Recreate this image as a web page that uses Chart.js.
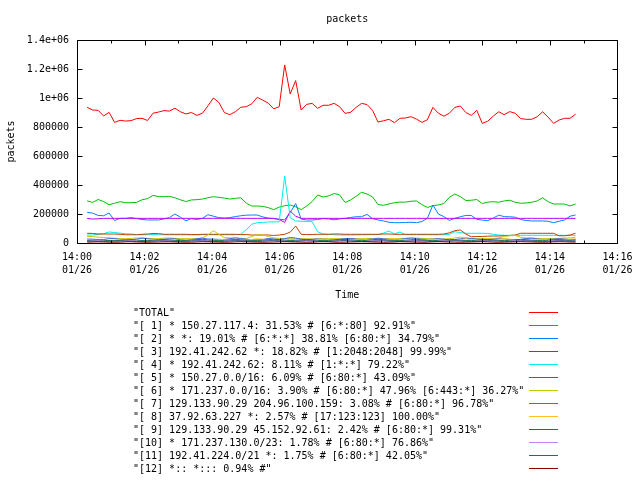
<html>
<head>
<title>packets</title>
<script src="https://cdn.jsdelivr.net/npm/chart.js@4.4.1/dist/chart.umd.min.js"></script>
<style>
  body { margin: 0; background: #fff; }
  #wrap { position: relative; width: 640px; height: 480px; }
  #legend { position: absolute; left: 0; top: 0; width: 640px; height: 480px; pointer-events: none;
            font: 10px "DejaVu Sans Mono", monospace; color: #000; }
  .row { position: absolute; left: 133px; height: 13px; line-height: 13px; white-space: pre; }
  .key { position: absolute; left: 529px; width: 29px; height: 1px; }
</style>
</head>
<body>
<div id="wrap">
  <canvas id="myChart" width="640" height="480"></canvas>
  <div id="legend"></div>
</div>

<script type="text/javascript">
// samples, in thousands of packets, one every ~10s from 14:00:18
var startMin = 0.30, endMin = 14.76

var total = [936,917,915,876,901,832,846,841,844,858,
  860,845,895,903,913,910,930,905,890,900,
  880,895,945,1000,970,900,885,905,936,940,
  960,1005,985,965,925,940,1228,1028,1120,917,
  956,963,929,950,950,963,940,894,901,935,
  963,955,915,834,843,853,830,860,862,871,
  855,832,850,935,895,875,895,935,945,900,
  880,915,825,840,875,905,885,906,895,858,
  853,853,871,905,868,825,848,860,860,888]

var s1 = [290,280,300,286,264,274,285,278,278,280,
  298,306,328,320,319,322,312,298,286,297,
  299,303,312,319,315,310,303,308,312,275,
  255,255,253,244,230,248,257,262,250,230,
  255,285,331,317,325,341,332,280,296,322,
  350,338,318,265,260,269,278,282,282,288,
  290,265,245,258,262,272,315,338,320,293,
  295,300,272,282,285,281,290,295,281,274,
  276,281,290,312,285,269,269,268,256,269]

var s2 = [212,206,190,188,207,155,170,170,175,168,
  162,159,159,159,166,175,200,178,153,168,
  162,170,195,185,175,172,175,182,188,192,
  193,193,180,172,168,164,160,210,272,165,
  159,159,162,168,166,160,166,170,176,181,
  181,197,168,159,152,143,140,140,142,143,
  140,148,170,262,200,182,156,170,181,190,
  190,163,158,154,172,192,182,181,178,162,
  155,152,152,152,150,140,150,159,185,193]

var s3 = [170,165,167,170,170,170,170,170,170,170,
  170,170,170,170,170,170,170,170,170,170,
  170,170,170,170,170,170,170,170,170,170,
  170,170,170,170,170,162,142,220,185,170,
  170,170,170,170,170,170,170,170,170,170,
  170,170,170,170,170,170,170,170,170,170,
  170,170,170,170,170,170,170,170,170,170,
  170,170,170,170,170,170,170,170,170,170,
  170,170,170,170,170,170,170,170,170,170]

var s4 = [55,55,60,64,76,72,68,64,62,58,
  57,57,58,57,57,57,57,57,57,57,
  57,58,58,57,57,57,57,57,60,92,
  130,140,142,145,146,146,462,175,152,150,
  148,147,78,62,60,57,55,55,55,56,
  57,57,58,58,68,83,62,76,58,57,
  57,57,57,57,57,57,60,78,72,67,
  67,67,67,66,60,55,53,53,53,53,
  53,53,53,53,53,53,53,53,53,53]

var s5 = [67,66,62,62,62,62,60,57,57,57,
  60,62,65,65,60,60,60,60,60,58,
  58,60,60,60,60,60,60,60,58,58,
  55,55,55,55,52,55,60,75,117,60,
  58,58,60,60,60,62,62,60,60,60,
  60,60,60,60,62,62,60,60,60,60,
  60,60,60,60,60,62,70,85,90,62,
  43,45,45,47,48,48,50,52,55,67,
  67,67,67,67,67,67,50,50,55,67]

var s6 = [45,44,40,38,36,33,30,30,32,35,
  35,33,30,30,33,35,32,30,30,30,
  30,35,55,85,60,38,35,35,32,30,
  45,57,57,45,35,32,30,30,30,30,
  30,28,28,30,30,30,30,28,28,30,
  30,32,30,28,28,30,30,30,32,35,
  35,32,30,30,28,28,30,35,40,35,
  32,30,30,30,30,35,45,50,52,40,
  35,35,32,30,30,30,32,35,35,40]

var s7 = [28,26,24,24,30,31,25,22,22,27,
  33,30,25,24,26,29,29,23,21,24,
  30,33,28,27,25,24,30,35,31,26,
  22,22,25,31,28,24,30,38,34,26,
  23,25,29,27,24,22,26,30,32,27,
  24,24,28,33,29,25,22,25,31,34,
  30,26,24,27,30,26,22,24,29,33,
  31,27,25,23,26,30,28,24,22,25,
  31,33,28,25,24,27,30,27,24,25]

var s8 = [20,22,25,18,16,20,26,28,22,18,
  17,20,24,26,21,18,16,19,23,27,
  24,20,18,17,22,26,24,19,17,20,
  25,30,26,20,18,17,20,24,22,19,
  18,21,26,28,23,19,17,18,22,25,
  27,23,20,18,19,24,28,25,21,18,
  17,20,23,26,22,19,18,21,25,28,
  24,20,18,17,20,26,30,27,22,19,
  18,20,24,26,23,20,18,22,26,28]

var s9 = [18,20,22,19,16,15,18,21,23,20,
  17,16,19,22,24,21,18,16,17,20,
  23,25,21,18,16,18,21,24,22,19,
  17,16,19,23,25,22,19,17,18,21,
  24,22,18,16,17,20,23,24,21,18,
  16,18,22,25,23,19,17,16,19,22,
  24,21,18,16,18,21,25,23,19,17,
  16,19,22,24,21,18,16,18,22,25,
  23,19,17,16,19,23,24,21,18,20]

var s10 = [12,14,16,13,10,9,12,15,17,14,
  11,10,13,16,18,15,12,10,11,14,
  17,19,15,12,10,12,15,18,16,13,
  11,10,13,17,20,16,13,11,12,15,
  18,16,12,10,11,14,17,18,15,12,
  10,12,16,19,17,13,11,10,13,16,
  18,15,12,10,12,15,19,17,13,11,
  10,13,16,18,15,12,10,12,16,19,
  17,13,11,10,13,17,18,15,12,14]

var s11 = [14,13,12,12,13,15,16,14,12,11,
  11,12,14,15,14,13,12,12,13,14,
  15,14,12,11,11,12,14,16,15,13,
  12,12,13,15,16,14,12,11,12,14,
  15,14,13,12,12,13,15,16,14,12,
  11,11,12,14,15,14,13,12,12,13,
  14,15,14,12,11,12,14,16,15,13,
  12,12,13,14,15,14,12,11,12,14,
  15,14,13,12,12,13,15,16,14,13]

var s12 = [6,7,8,7,6,5,6,8,9,7,
  6,5,6,7,8,8,7,6,5,6,
  7,9,8,7,6,5,6,8,9,8,
  7,6,5,6,7,8,9,8,7,6,
  5,6,8,9,8,6,5,6,7,8,
  9,8,7,6,5,6,7,9,8,7,
  6,5,6,8,9,8,7,6,5,6,
  7,8,9,8,6,5,6,7,8,9,
  8,7,6,5,6,8,9,8,7,6]

var labels = ['TOTAL',
  '[ 1] * 150.27.117.4: 31.53% # [6:*:80] 92.91%',
  '[ 2] * *: 19.01% # [6:*:*] 38.81% [6:80:*] 34.79%',
  '[ 3] 192.41.242.62 *: 18.82% # [1:2048:2048] 99.99%',
  '[ 4] * 192.41.242.62: 8.11% # [1:*:*] 79.22%',
  '[ 5] * 150.27.0.0/16: 6.09% # [6:80:*] 43.09%',
  '[ 6] * 171.237.0.0/16: 3.90% # [6:80:*] 47.96% [6:443:*] 36.27%',
  '[ 7] 129.133.90.29 204.96.100.159: 3.08% # [6:80:*] 96.78%',
  '[ 8] 37.92.63.227 *: 2.57% # [17:123:123] 100.00%',
  '[ 9] 129.133.90.29 45.152.92.61: 2.42% # [6:80:*] 99.31%',
  '[10] * 171.237.130.0/23: 1.78% # [6:80:*] 76.86%',
  '[11] 192.41.224.0/21 *: 1.75% # [6:80:*] 42.05%',
  '[12] *:: *::: 0.94% #']

var colors = ['#ff0000','#00c000','#0080ff','#c000ff','#00eeee','#c04000',
  '#c8c800','#4169e1','#ffc020','#008040','#c080ff','#306080','#8b0000']

var yTicks = [0, 200000, 400000, 600000, 800000, 1000000, 1200000, 1400000]
var xTickMin = [0, 2, 4, 6, 8, 10, 12, 14, 16]

var series = [total, s1, s2, s3, s4, s5, s6, s7, s8, s9, s10, s11, s12]
var mono = '"DejaVu Sans Mono", monospace'

function toPoints(arr) {
  var step = (endMin - startMin) / (arr.length - 1)
  return arr.map(function(v, i) { return { x: startMin + i * step, y: v * 1000 } })
}

var datasets = series.map(function(arr, i) {
  return {
    label: labels[i],
    data: toPoints(arr),
    borderColor: colors[i],
    backgroundColor: colors[i],
    borderWidth: 1,
    pointRadius: 0,
    fill: false,
    tension: 0,
    order: series.length - i
  }
})

function yLabel(v) {
  if (v === 0) return '0'
  if (v >= 1000000) return (v / 1000000) + 'e+06'
  return String(v)
}

// gnuplot style border with inward ticks on all four sides
var framePlugin = {
  id: 'frame',
  afterDatasetsDraw: function(chart) {
    var ctx = chart.ctx, a = chart.chartArea
    var xs = chart.scales.x, ys = chart.scales.y
    var L = Math.round(a.left) + 0.5, R = Math.round(a.right) + 0.5
    var T = Math.round(a.top) + 0.5, B = Math.round(a.bottom) + 0.5
    ctx.save()
    ctx.strokeStyle = '#000'
    ctx.lineWidth = 1
    ctx.beginPath()
    ctx.rect(L, T, R - L, B - T)
    for (var m = 0; m <= 16; m++) {
      var px = Math.round(xs.getPixelForValue(m)) + 0.5
      var len = (m % 2 === 0) ? 5 : 3
      ctx.moveTo(px, B); ctx.lineTo(px, B - len)
      ctx.moveTo(px, T); ctx.lineTo(px, T + len)
    }
    yTicks.forEach(function(v) {
      var py = Math.round(ys.getPixelForValue(v)) + 0.5
      ctx.moveTo(L, py); ctx.lineTo(L + 5, py)
      ctx.moveTo(R, py); ctx.lineTo(R - 5, py)
    })
    ctx.stroke()
    ctx.restore()
  }
}

Chart.defaults.color = '#000'
Chart.defaults.font.family = mono
Chart.defaults.font.size = 10

var chart = new Chart(document.getElementById('myChart'), {
  type: 'line',
  data: { datasets: datasets },
  options: {
    responsive: false,
    animation: false,
    devicePixelRatio: 1,
    layout: { padding: { left: 0, right: 16, top: 0, bottom: 177 } },
    plugins: {
      legend: { display: false },
      tooltip: { enabled: false },
      title: {
        display: true,
        text: 'packets',
        fullSize: false,
        color: '#000',
        font: { family: mono, size: 10, weight: 'normal' },
        padding: { top: 13, bottom: 15 }
      }
    },
    scales: {
      x: {
        type: 'linear',
        min: 0,
        max: 16,
        grid: { display: false, drawTicks: false },
        border: { display: false },
        afterBuildTicks: function(s) { s.ticks = xTickMin.map(function(v) { return { value: v } }) },
        afterFit: function(s) { s.height = 60 },
        ticks: {
          padding: 7.5,
          maxRotation: 0,
          autoSkip: false,
          font: { family: mono, size: 10, lineHeight: 1.3 },
          callback: function(v) {
            var mm = v < 10 ? '0' + v : String(v)
            return ['14:' + mm, '01/26']
          }
        },
        title: { display: true, text: 'Time', font: { family: mono, size: 10 }, padding: { top: 0, bottom: 2 } }
      },
      y: {
        min: 0,
        max: 1400000,
        grid: { display: false, drawTicks: false },
        border: { display: false },
        afterBuildTicks: function(s) { s.ticks = yTicks.map(function(v) { return { value: v } }) },
        afterFit: function(s) { s.width = 77 },
        ticks: { padding: 8, font: { family: mono, size: 10 }, callback: yLabel },
        title: { display: true, text: 'packets', font: { family: mono, size: 10 }, padding: { top: 5, bottom: 0 } }
      }
    }
  },
  plugins: [framePlugin]
})

// legend laid out like gnuplot's key: text on the left, line sample on the right
var legendEl = document.getElementById('legend')
chart.data.datasets.forEach(function(ds, i) {
  var top = 306 + i * 13
  var row = document.createElement('div')
  row.className = 'row'
  row.style.top = top + 'px'
  row.textContent = '"' + ds.label + '"'
  legendEl.appendChild(row)
  var key = document.createElement('div')
  key.className = 'key'
  key.style.top = (top + 6) + 'px'
  key.style.background = ds.borderColor
  legendEl.appendChild(key)
})
</script>
</body>
</html>
